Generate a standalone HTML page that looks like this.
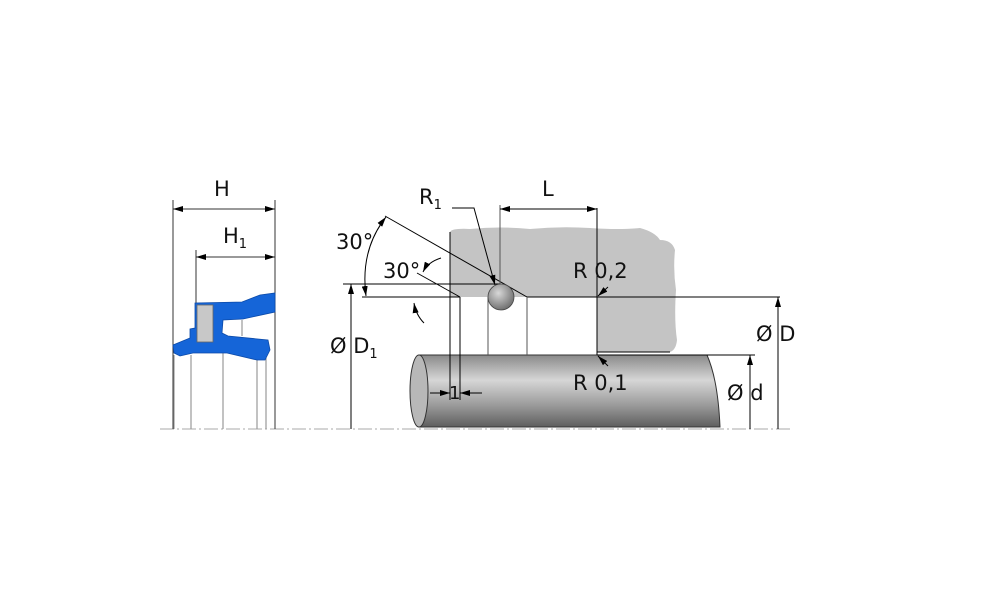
<!DOCTYPE html>
<html><head><meta charset="utf-8"><style>
html,body{margin:0;padding:0;background:#fff;}
svg{display:block;}
text{font-family:"DejaVu Sans","Liberation Sans",sans-serif;fill:#111;}
</style></head><body>
<svg width="1000" height="611" viewBox="0 0 1000 611" xmlns="http://www.w3.org/2000/svg">
<defs>
<linearGradient id="rod" x1="0" y1="0" x2="0" y2="1">
<stop offset="0" stop-color="#8a8a8a"/><stop offset="0.35" stop-color="#d6d6d6"/><stop offset="0.7" stop-color="#9a9a9a"/><stop offset="1" stop-color="#5e5e5e"/>
</linearGradient>
<radialGradient id="ball" cx="0.4" cy="0.35" r="0.7">
<stop offset="0" stop-color="#d8d8d8"/><stop offset="1" stop-color="#6a6a6a"/>
</radialGradient>
<marker id="a" viewBox="0 0 10 6" refX="10" refY="3" markerWidth="10" markerHeight="6" orient="auto-start-reverse" markerUnits="userSpaceOnUse"><path d="M0,0 L10,3 L0,6z" fill="#000"/></marker>
</defs>
<line x1="160" y1="429" x2="790" y2="429" stroke="#bbb" stroke-width="1.2" stroke-dasharray="14,3,2,3"/>

<g stroke="#999" stroke-width="1.2">
<line x1="174" y1="355" x2="174" y2="429"/><line x1="191" y1="355" x2="191" y2="429"/>
<line x1="223" y1="352" x2="223" y2="429"/><line x1="257" y1="358" x2="257" y2="429"/>
<line x1="266" y1="358" x2="266" y2="429"/><line x1="242" y1="320" x2="242" y2="336"/>
</g>
<g stroke="#333" stroke-width="1">
<line x1="173" y1="200" x2="173" y2="429"/><line x1="275" y1="200" x2="275" y2="429"/>
<line x1="196" y1="250" x2="196" y2="305"/>
<line x1="173" y1="209" x2="275" y2="209" marker-start="url(#a)" marker-end="url(#a)"/>
<line x1="196" y1="257" x2="275" y2="257" marker-start="url(#a)" marker-end="url(#a)"/>
</g>
<path d="M195,303 L242,302 L260,295 L275,293 L275,312 L243,319 L223,320 L222,333 L228,336 L268,340 L270,350 L265,360 L257,360 L227,353 L193,353 L180,356 L174,353 L173,345 L190,338 L190,329 L195,328 Z" fill="#1565d8" stroke="#0c4aa8" stroke-width="0.8"/>
<rect x="197" y="305" width="16" height="37" fill="#c8c8c8" stroke="#666" stroke-width="0.8"/>
<text x="214" y="196" font-size="21">H</text>
<text x="223" y="243" font-size="21">H<tspan font-size="13" dy="5">1</tspan></text>

<path d="M450,232 Q452,228 470,229 Q500,226 530,229 Q560,226 590,228 Q620,230 640,228 Q655,232 660,240 Q672,240 675,250 Q673,270 676,290 Q674,320 677,340 Q676,350 670,352 L597,352 L597,297 L450,297 Z" fill="#c4c4c4"/>
<path d="M419,355 L707,355 Q718,380 720,427 L419,427 Z" fill="url(#rod)" stroke="#333" stroke-width="1"/>
<ellipse cx="419" cy="391" rx="9" ry="36" fill="#b8b8b8" stroke="#333" stroke-width="1"/>

<g stroke="#000" stroke-width="1" fill="none">
<line x1="527" y1="297" x2="780" y2="297"/>
<line x1="597" y1="208" x2="597" y2="355"/>
<line x1="597" y1="352" x2="670" y2="352"/>
<line x1="597" y1="355" x2="755" y2="355"/>
<line x1="343" y1="284" x2="500" y2="284"/>
<line x1="362" y1="297" x2="460" y2="297"/>
<line x1="385" y1="216" x2="527" y2="297"/>
<line x1="417" y1="273" x2="460" y2="297"/>
<line x1="450" y1="232" x2="450" y2="400"/>
<line x1="460" y1="297" x2="460" y2="400"/>
<line x1="488" y1="297" x2="488" y2="355" stroke="#555"/>
<line x1="527" y1="297" x2="527" y2="355" stroke="#555"/>
<line x1="500" y1="205" x2="500" y2="297" stroke="#555"/>
<line x1="500" y1="209" x2="597" y2="209" marker-start="url(#a)" marker-end="url(#a)"/>
<line x1="351" y1="429" x2="351" y2="284" marker-end="url(#a)"/>
<line x1="778" y1="429" x2="778" y2="297" marker-end="url(#a)"/>
<line x1="750" y1="429" x2="750" y2="355" marker-end="url(#a)"/>
<line x1="430" y1="393" x2="450" y2="393" marker-end="url(#a)"/>
<line x1="482" y1="393" x2="460" y2="393" marker-end="url(#a)"/>
<polyline points="452,208 474,208 495,285" marker-end="url(#a)"/>
<line x1="608" y1="287" x2="598" y2="296" marker-end="url(#a)"/>
<line x1="608" y1="366" x2="598" y2="356" marker-end="url(#a)"/>
<path d="M386,217 Q360,250 366,296" marker-start="url(#a)" marker-end="url(#a)"/>
<path d="M441,258 Q428,262 423,272" marker-end="url(#a)"/>
<path d="M424,323 Q416,315 414,303" marker-end="url(#a)"/>
</g>
<circle cx="501" cy="297" r="13" fill="url(#ball)" stroke="#444" stroke-width="0.8"/>

<g font-size="21">
<text x="419" y="204">R<tspan font-size="13" dy="5">1</tspan></text>
<text x="542" y="196">L</text>
<text x="336" y="249">30°</text>
<text x="383" y="278">30°</text>
<text x="573" y="278">R 0,2</text>
<text x="573" y="390">R 0,1</text>
<text x="330" y="353">Ø D<tspan font-size="13" dy="5">1</tspan></text>
<text x="756" y="341">Ø D</text>
<text x="727" y="400">Ø d</text>
<text x="449" y="399" font-size="18">1</text>
</g>
</svg>
</body></html>
